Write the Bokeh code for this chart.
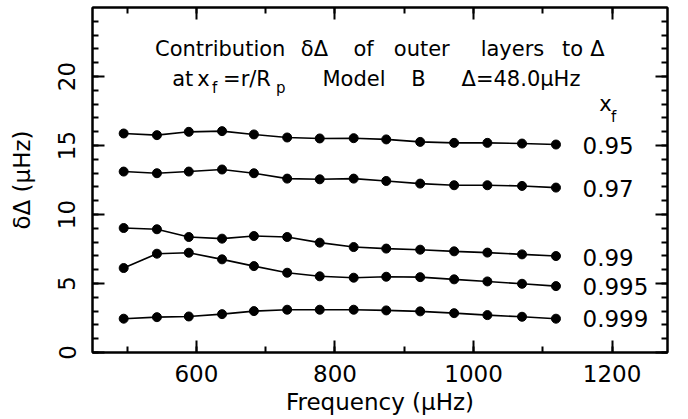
from bokeh.plotting import figure
from bokeh.models import Range1d, LinearAxis, SingleIntervalTicker, Label, CustomLabelingPolicy
from bokeh.embed import file_html
from bokeh.resources import INLINE

# ---- data ----
freq = [495, 543, 589, 637, 683, 731, 778, 827, 874, 923, 972, 1020, 1070, 1119]
d_095 = [15.87, 15.75, 15.99, 16.04, 15.80, 15.58, 15.51, 15.53, 15.44, 15.26, 15.19, 15.19, 15.14, 15.07]
d_097 = [13.11, 12.99, 13.11, 13.26, 12.99, 12.60, 12.55, 12.60, 12.43, 12.24, 12.12, 12.12, 12.07, 11.95]
d_099 = [9.02, 8.93, 8.37, 8.25, 8.44, 8.37, 7.96, 7.64, 7.53, 7.45, 7.33, 7.24, 7.11, 6.99]
d_0995 = [6.12, 7.16, 7.23, 6.75, 6.26, 5.78, 5.52, 5.42, 5.49, 5.46, 5.30, 5.15, 4.98, 4.81]
d_0999 = [2.45, 2.56, 2.61, 2.78, 3.00, 3.10, 3.10, 3.10, 3.05, 2.98, 2.85, 2.71, 2.59, 2.45]
series = [d_095, d_097, d_099, d_0995, d_0999]
xf_labels = ["0.95", "0.97", "0.99", "0.995", "0.999"]

title_line1 = ["Contribution", "\u03b4\u0394", "of", "outer", "layers", "to", "\u0394"]
title_line2 = ["at", "x", "f", "=r/R", "p", "Model", "B", "\u0394=48.0\u03bcHz"]
x_label = "Frequency (\u03bcHz)"
y_label = "\u03b4\u0394 (\u03bcHz)"

# ---- annotation placement (styles) ----
FONT = "DejaVu Sans"
line1_x = [634.3, 770.4, 841.2, 925.3, 1056.2, 1142.8, 1178.9]
line2_x = [580.2, 610.2, 622.5, 673.0, 714.9, 827.5, 920.6, 1068.5]
line2_sub = [False, False, True, False, True, False, False, False]
lab_x = 1157.3
lab_y = [15.02, 11.88, 6.92, 4.79, 2.45]

p = figure(frame_width=575, frame_height=345,
           x_range=Range1d(450, 1280), y_range=Range1d(0, 24.999),
           output_backend="svg", toolbar_location=None,
           min_border_left=92, min_border_right=16, min_border_top=7, min_border_bottom=10)
p.xgrid.visible = False
p.ygrid.visible = False
p.outline_line_color = "black"
p.outline_line_width = 2
p.background_fill_color = "white"
p.border_fill_color = "white"

def style_axis(ax, interval, nminor, labels=True):
    ax.ticker = SingleIntervalTicker(interval=interval, num_minor_ticks=nminor)
    ax.axis_line_width = 2
    ax.axis_line_color = "black"
    ax.major_tick_in = 12
    ax.major_tick_out = 0
    ax.minor_tick_in = 6
    ax.minor_tick_out = 0
    ax.major_tick_line_width = 2
    ax.minor_tick_line_width = 2
    ax.major_tick_line_color = "black"
    ax.minor_tick_line_color = "black"
    ax.major_label_text_font = FONT
    ax.major_label_text_font_size = "23px"
    ax.major_label_text_color = "black"
    ax.axis_label_text_font = FONT
    ax.axis_label_text_font_size = "23px"
    ax.axis_label_text_font_style = "normal"
    ax.axis_label_text_color = "black"
    if not labels:
        ax.major_label_standoff = 0
        ax.major_label_text_font_size = "0px"
        ax.major_label_policy = CustomLabelingPolicy(code="return new Set()")

xa = p.xaxis[0]
ya = p.yaxis[0]
style_axis(xa, 200, 2)
style_axis(ya, 5, 5)
xa.axis_label = x_label
ya.axis_label = y_label
xa.major_label_standoff = 12
xa.axis_label_standoff = 4
ya.major_label_standoff = 17
ya.axis_label_standoff = 21
ya.major_label_orientation = "vertical"

top = LinearAxis()
style_axis(top, 200, 2, labels=False)
p.add_layout(top, "above")
right = LinearAxis()
style_axis(right, 5, 5, labels=False)
p.add_layout(right, "right")

for ys in series:
    p.line(freq, ys, line_color="black", line_width=1.6)
    p.scatter(freq, ys, size=9, marker="circle", fill_color="black", line_color="black")

for txt, yy in zip(xf_labels, lab_y):
    p.add_layout(Label(x=lab_x, y=yy, text=txt, text_font=FONT, text_font_size="23px",
                       text_baseline="alphabetic", text_align="left", text_color="black"))

p.add_layout(Label(x=1181.5, y=18.04, text="x", text_font=FONT, text_font_size="21px",
                   text_baseline="alphabetic", text_color="black"))
p.add_layout(Label(x=1198.4, y=17.07, text="f", text_font=FONT, text_font_size="15px",
                   text_baseline="alphabetic", text_color="black"))

for txt, xx in zip(title_line1, line1_x):
    p.add_layout(Label(x=xx, y=21.97, text=txt, text_font=FONT, text_font_size="21px",
                       text_baseline="alphabetic", text_align="center", text_color="black"))
for txt, xx, sub in zip(title_line2, line2_x, line2_sub):
    p.add_layout(Label(x=xx, y=19.14 if sub else 19.79, text=txt, text_font=FONT,
                       text_font_size="15px" if sub else "21px",
                       text_align="left" if sub else "center",
                       text_baseline="alphabetic", text_color="black"))

open("out.html", "w").write(file_html(p, INLINE))
